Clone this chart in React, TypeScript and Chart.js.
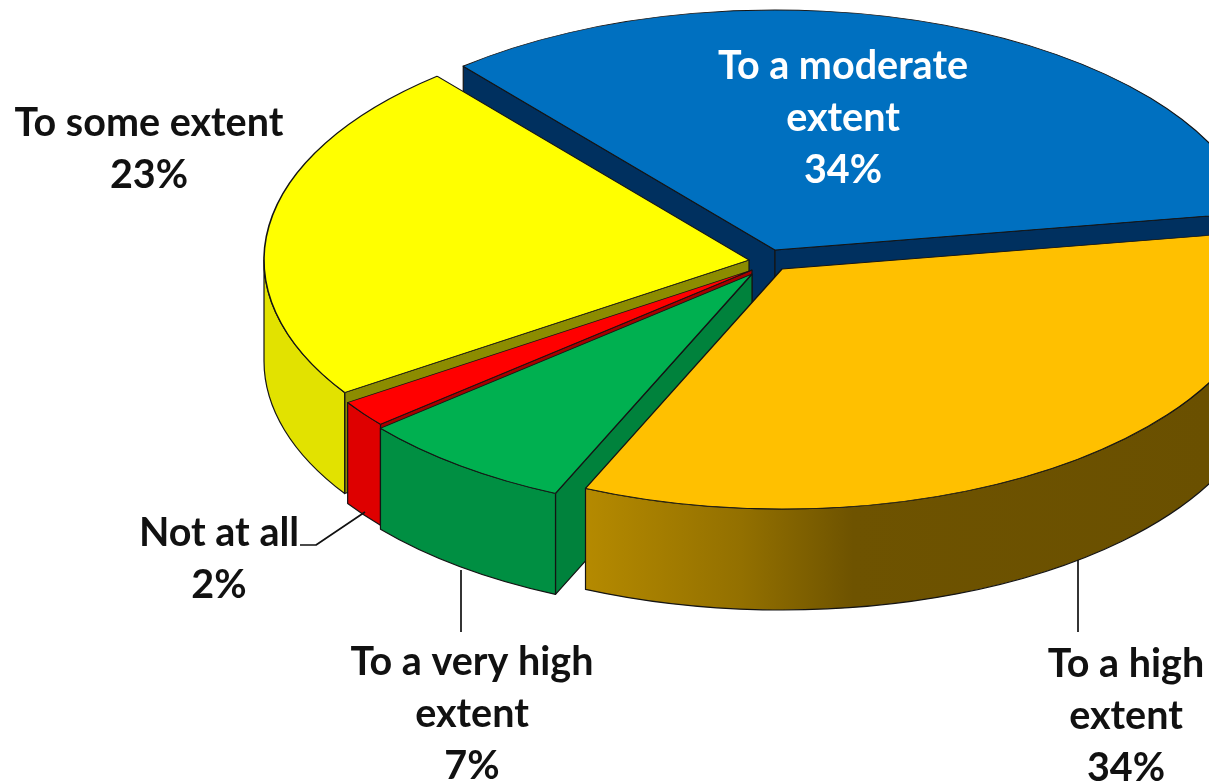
import React, { useEffect, useRef } from "react";
import { Chart, registerables } from "chart.js";

Chart.register(...registerables);

const categories = ["To a moderate extent", "To a high extent", "To a very high extent", "Not at all", "To some extent"];
const shares = [33.6, 34.15, 7.25, 1.8, 23.2];

const topColors = ["#0070C0", "#FFC000", "#00B050", "#FF0000", "#FFFF00"];
const rimColors = ["#003A70", "#B58A00", "#008F42", "#DE0000", "#E2E200"];
const cutColors = ["#00305F", "#7F6000", "#00823C", "#A80000", "#8C8C00"];
const apexX = [775, 782, 752, 752, 749];
const apexY = [250, 269, 274, 270, 260];
const paintOrder = [0, 4, 3, 2, 1];

const labelLines = [
  ["To a moderate", "extent", "34%"],
  ["To a high", "extent", "34%"],
  ["To a very high", "extent", "7%"],
  ["Not at all", "2%"],
  ["To some extent", "23%"],
];
const labelX = [843, 1126, 472, 219, 149];
const labelY = [66, 664, 662, 533, 123];
const labelColors = ["#FFFFFF", "#111111", "#111111", "#111111", "#111111"];
const leaders = [
  [[300, 545], [316, 545], [365, 512]],
  [[461, 570], [461, 632]],
  [[1078, 560], [1078, 632]],
];

const SQUASH = 240 / 485;
const DEPTH = 101;
const LINE_GAP = 52;
const INK = "#141414";

function pt(i: number, arc: any, a: number) {
  return [apexX[i] + arc.outerRadius * Math.cos(a), apexY[i] + arc.outerRadius * SQUASH * Math.sin(a)];
}

function cutWall(ctx: any, i: number, arc: any, a: number) {
  const [x, y] = pt(i, arc, a);
  ctx.beginPath();
  ctx.moveTo(apexX[i], apexY[i]);
  ctx.lineTo(x, y);
  ctx.lineTo(x, y + DEPTH);
  ctx.lineTo(apexX[i], apexY[i] + DEPTH);
  ctx.closePath();
  ctx.fillStyle = cutColors[i];
  ctx.fill();
  ctx.stroke();
}

function rim(ctx: any, i: number, arc: any) {
  // normalise the angles so that the front half of the ellipse is 0..PI
  let s = arc.startAngle;
  let e = arc.endAngle;
  while (e > Math.PI * 2) {
    s -= Math.PI * 2;
    e -= Math.PI * 2;
  }
  const a0 = Math.max(s, 0);
  const a1 = Math.min(e, Math.PI);
  if (a1 <= a0) return;
  const rx = arc.outerRadius;
  const ry = rx * SQUASH;
  ctx.beginPath();
  ctx.ellipse(apexX[i], apexY[i], rx, ry, 0, a0, a1);
  ctx.ellipse(apexX[i], apexY[i] + DEPTH, rx, ry, 0, a1, a0, true);
  ctx.closePath();
  if (i === 1) {
    const g = ctx.createLinearGradient(585, 0, 1209, 0);
    g.addColorStop(0, "#B58A00");
    g.addColorStop(0.25, "#937000");
    g.addColorStop(0.43, "#6E5300");
    g.addColorStop(1, "#6A5000");
    ctx.fillStyle = g;
  } else {
    ctx.fillStyle = rimColors[i];
  }
  ctx.fill();
  ctx.stroke();
}

const solidPie = {
  id: "solidPie",
  beforeDatasetDraw(chart: any) {
    const ctx = chart.ctx;
    const arcs = chart.getDatasetMeta(0).data;
    ctx.lineJoin = "round";
    for (const i of paintOrder) {
      const arc = arcs[i];
      ctx.save();
      ctx.strokeStyle = INK;
      ctx.lineWidth = 1.2;
      if (Math.cos(arc.startAngle) > 0 === false) cutWall(ctx, i, arc, arc.startAngle);
      if (Math.cos(arc.endAngle) > 0) cutWall(ctx, i, arc, arc.endAngle);
      rim(ctx, i, arc);
      ctx.restore();

      ctx.save();
      ctx.translate(apexX[i], apexY[i]);
      ctx.scale(1, SQUASH);
      ctx.translate(-arc.x, -arc.y);
      arc.draw(ctx);
      ctx.restore();
    }
    return false;
  },
  afterDraw(chart: any) {
    const ctx = chart.ctx;
    ctx.save();
    ctx.strokeStyle = "#111111";
    ctx.lineWidth = 1.7;
    for (const path of leaders) {
      ctx.beginPath();
      path.forEach(([x, y]: number[], k: number) => (k ? ctx.lineTo(x, y) : ctx.moveTo(x, y)));
      ctx.stroke();
    }
    ctx.font = 'bold 39.5px Lato';
    ctx.textAlign = "center";
    ctx.textBaseline = "middle";
    labelLines.forEach((lines, i) => {
      ctx.fillStyle = labelColors[i];
      lines.forEach((t, k) => ctx.fillText(t, labelX[i], labelY[i] + k * LINE_GAP));
    });
    ctx.restore();
  },
};

export default function App() {
  const ref = useRef<HTMLCanvasElement>(null);
  useEffect(() => {
    const chart = new Chart(ref.current as any, {
      type: "pie",
      data: {
        labels: categories,
        datasets: [
          {
            data: shares,
            backgroundColor: topColors,
            borderColor: INK,
            borderWidth: 1.6,
            radius: 485,
            rotation: -40,
          } as any,
        ],
      },
      options: {
        responsive: false,
        animation: false,
        events: [],
        layout: { padding: { left: 323, bottom: 259 } },
        plugins: { legend: { display: false }, tooltip: { enabled: false } },
      },
      plugins: [solidPie as any],
    });
    return () => chart.destroy();
  }, []);
  return (
    <canvas
      ref={ref}
      width={1209}
      height={783}
      style={{ position: "absolute", left: 0, top: 0, display: "block", background: "#FFFFFF" }}
    />
  );
}
